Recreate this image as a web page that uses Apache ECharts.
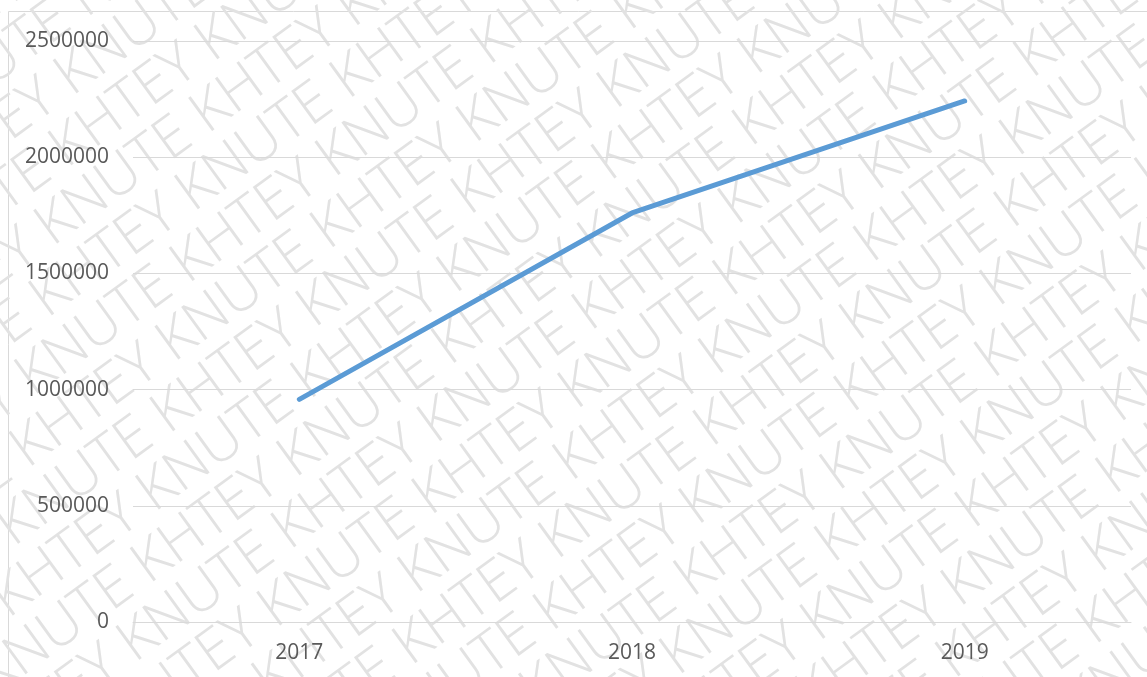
<!DOCTYPE html>
<html>
<head>
<meta charset="utf-8">
<script src="https://cdn.jsdelivr.net/npm/echarts@6/dist/echarts.min.js"></script>
<style>
  html, body { margin: 0; padding: 0; background: #ffffff; }
  #chart { width: 1147px; height: 677px; }
</style>
</head>
<body>
<div id="chart"></div>
<script>
// Yearly values
const years = ['2017', '2018', '2019'];
const values = [958000, 1760000, 2242000];

// Value axis settings
const yMin = 0;
const yMax = 2500000;
const yStep = 500000;

// Watermark text
const watermarkWord = 'KHTEY KNUTE ';
const markFont = '300 57px "Open Sans", "Liberation Sans", sans-serif';

const chart = echarts.init(document.getElementById('chart'), null, { renderer: 'canvas' });

// Width of one repeat of the watermark phrase
const measureCtx = document.createElement('canvas').getContext('2d');
measureCtx.font = markFont;
const period = measureCtx.measureText(watermarkWord).width;

// Diagonal repeated watermark lines, placed behind the plot
const markAngle = 36;
const rowGap = 55;
const rowShift = period / 2 - 52;
const markRows = [];
for (let k = -12; k <= 26; k++) {
  let start = -280 + k * rowShift;
  start -= Math.ceil((start + 1100) / period) * period;
  markRows.push({
    type: 'text',
    x: start,
    y: -286 + k * rowGap,
    style: {
      text: watermarkWord.repeat(10),
      font: markFont,
      fill: '#e2e2e2',
      textVerticalAlign: 'middle'
    },
    silent: true
  });
}

chart.setOption({
  backgroundColor: '#ffffff',
  animation: false,
  graphic: [
    {
      type: 'group',
      x: 573,
      y: 338,
      rotation: markAngle * Math.PI / 180,
      z: -10,
      silent: true,
      children: markRows
    },
    {
      type: 'rect',
      shape: { x: 8.5, y: 11.5, width: 1300, height: 800 },
      style: { fill: 'none', stroke: '#d9d9d9', lineWidth: 1 },
      z: -5,
      silent: true
    }
  ],
  grid: { left: 133, right: 16, top: 41, bottom: 55, containLabel: false },
  xAxis: {
    type: 'category',
    data: years,
    boundaryGap: true,
    axisLine: { show: true, lineStyle: { color: '#d9d9d9', width: 1 } },
    axisTick: { show: false },
    axisLabel: {
      color: '#595959',
      fontSize: 21,
      fontFamily: '"Open Sans", "Liberation Sans", sans-serif',
      margin: 21
    },
    splitLine: { show: false }
  },
  yAxis: {
    type: 'value',
    min: yMin,
    max: yMax,
    interval: yStep,
    axisLine: { show: false },
    axisTick: { show: false },
    axisLabel: {
      color: '#595959',
      fontSize: 21,
      fontFamily: '"Open Sans", "Liberation Sans", sans-serif',
      margin: 24,
      formatter: (v) => String(v)
    },
    splitLine: { show: true, lineStyle: { color: '#d9d9d9', width: 1 } }
  },
  series: [
    {
      type: 'line',
      data: values,
      symbol: 'none',
      lineStyle: { color: '#5b9bd5', width: 5, cap: 'round', join: 'round' },
      z: 5
    }
  ]
});
</script>
</body>
</html>
